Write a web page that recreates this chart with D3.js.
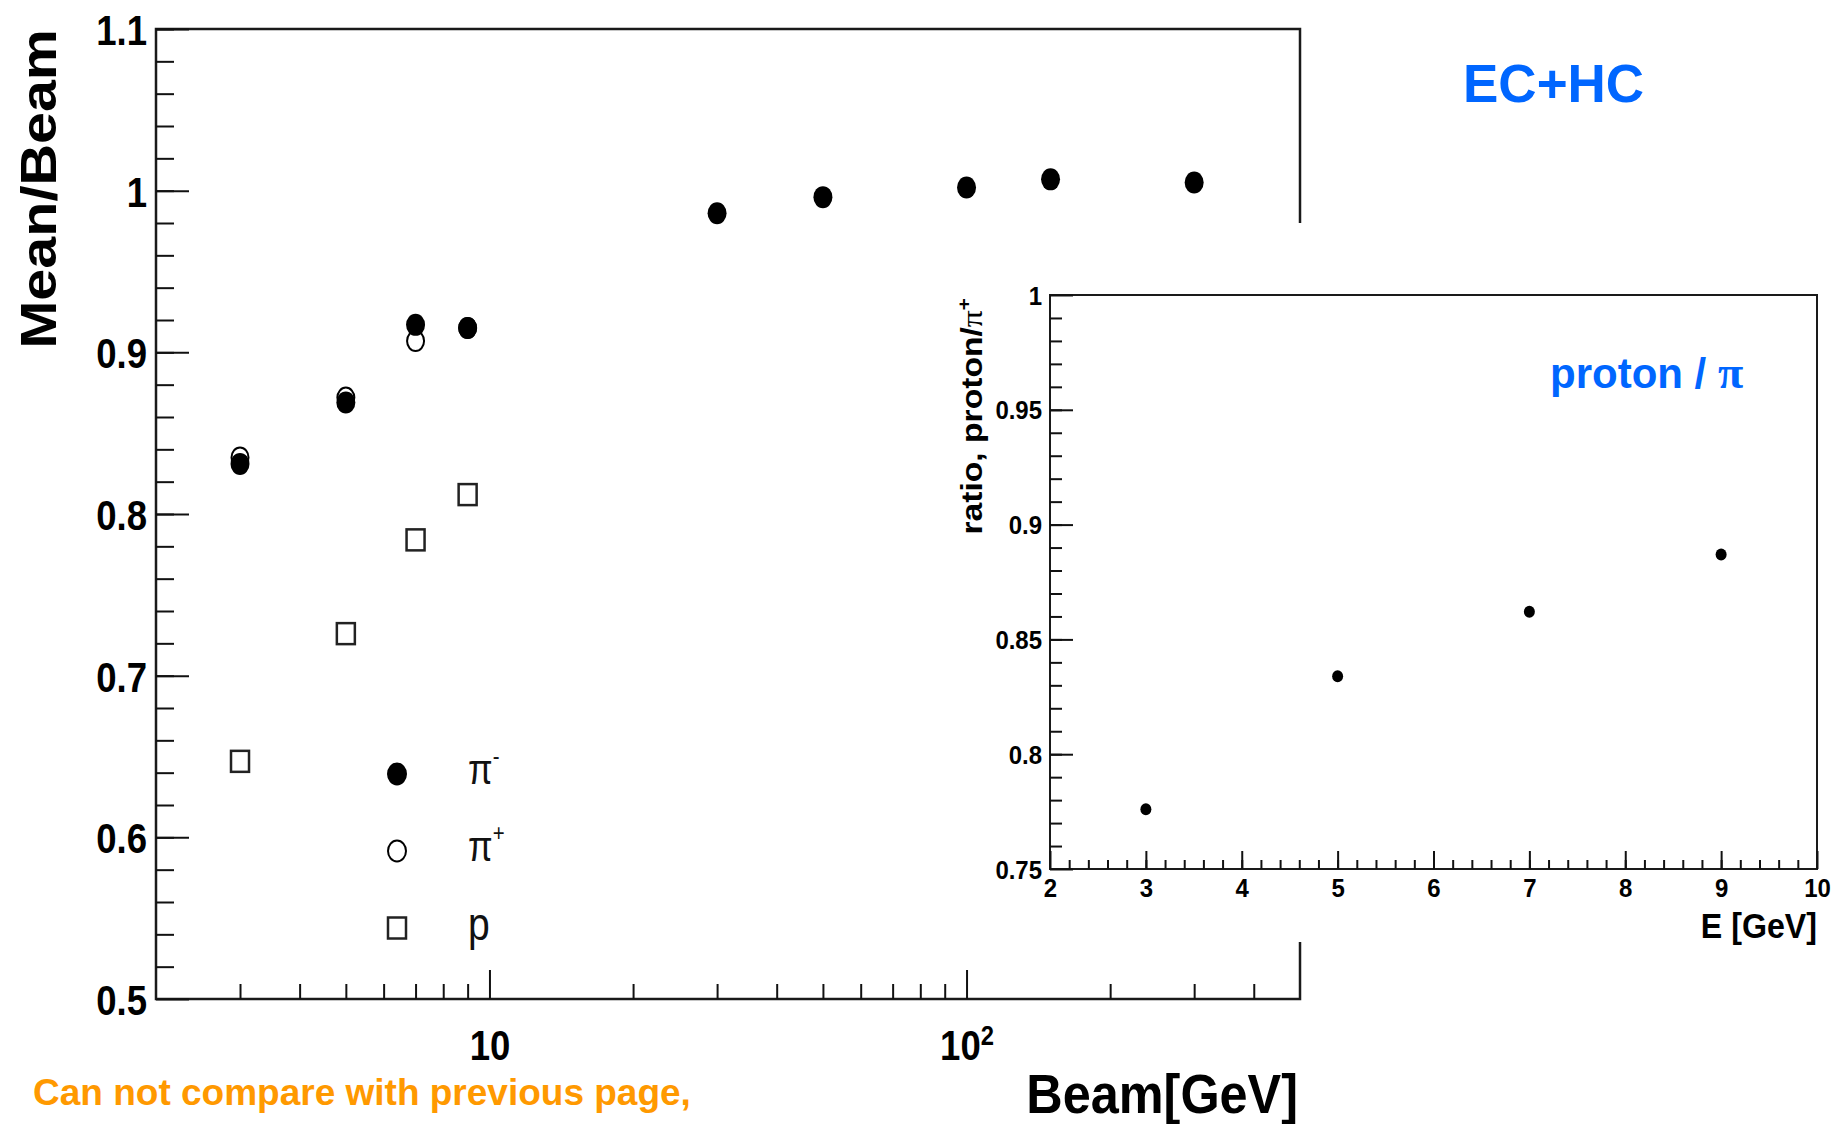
<!DOCTYPE html>
<html>
<head>
<meta charset="utf-8">
<script src="https://d3js.org/d3.v7.min.js"></script>
<style>
body { margin: 0; background: #fff; }
text { font-family: "Liberation Sans", Arial, sans-serif; }
</style>
</head>
<body>
<svg id="chart" width="1840" height="1124"></svg>
<script>
// main plot: Mean/Beam vs beam energy
var beamE = [3, 5, 7, 9, 30, 50, 100, 150, 300]
var piMinus = [0.831, 0.869, 0.917, 0.915, 0.986, 0.996, 1.002, 1.007, 1.005]
var lowE = [3, 5, 7, 9]
var piPlus = [0.835, 0.872, 0.907, 0.915]
var proton = [0.647, 0.726, 0.784, 0.812]

// inset: proton / pi+ ratio
var ratioE = [3, 5, 7, 9]
var ratio = [0.776, 0.834, 0.862, 0.887]

var mainYTicks = [0.5, 0.6, 0.7, 0.8, 0.9, 1, 1.1]
var mainXMajor = [10, 100]
var mainXMinor = [3, 4, 5, 6, 7, 8, 9, 20, 30, 40, 50, 60, 70, 80, 90, 200, 300, 400]
var insetXTicks = [2, 3, 4, 5, 6, 7, 8, 9, 10]
var insetYTicks = [0.75, 0.8, 0.85, 0.9, 0.95, 1]

var legendNames = ["π", "π", "p"]
var legendSups = ["-", "+", ""]
var legendMarks = ["filled", "open", "square"]

var svg = d3.select("#chart")

var x = d3.scaleLog().domain([2, 500]).range([156, 1300])
var y = d3.scaleLinear().domain([0.5, 1.1]).range([999, 29])
var xi = d3.scaleLinear().domain([2, 10]).range([1050, 1817])
var yi = d3.scaleLinear().domain([0.75, 1]).range([869, 295])

function cleanAxis(g) {
  g.select(".domain").remove()
  g.selectAll(".tick line").attr("stroke", "#111").attr("stroke-width", 2)
}

function blank() { return "" }

// ---- main frame and axes
svg.append("rect")
  .attr("x", 156).attr("y", 29).attr("width", 1144).attr("height", 970)
  .attr("fill", "none").attr("stroke", "#1a1a1a").attr("stroke-width", 2.5)

svg.append("g").attr("transform", "translate(156,0)")
  .call(d3.axisLeft(y).tickValues(d3.range(0.52, 1.1, 0.02)).tickSize(-18).tickFormat(blank))
  .call(cleanAxis)

svg.append("g").attr("transform", "translate(156,0)")
  .call(d3.axisLeft(y).tickValues(mainYTicks).tickSize(-33).tickPadding(9).tickFormat(d3.format("")))
  .call(cleanAxis)
  .call(function (g) {
    g.selectAll(".tick text")
      .attr("font-family", "Liberation Sans, Arial, sans-serif")
      .attr("font-weight", "bold").attr("font-size", 43).attr("fill", "#000")
      .attr("x", -9 / 0.85).attr("dy", "0.36em")
      .attr("transform", "scale(0.85,1)")
  })

svg.append("g").attr("transform", "translate(0,999)")
  .call(d3.axisBottom(x).tickValues(mainXMinor).tickSize(-15).tickFormat(blank))
  .call(cleanAxis)

svg.append("g").attr("transform", "translate(0,999)")
  .call(d3.axisBottom(x).tickValues(mainXMajor).tickSize(-29).tickFormat(blank))
  .call(cleanAxis)
  .call(function (g) {
    g.selectAll(".tick text").remove()
    g.selectAll(".tick").each(function (d) {
      var t = d3.select(this).append("text")
        .attr("transform", "translate(0,61) scale(0.85,1)")
        .attr("text-anchor", "middle")
        .attr("font-family", "Liberation Sans, Arial, sans-serif")
        .attr("font-weight", "bold").attr("font-size", 43).attr("fill", "#000")
      var p = Math.round(Math.log10(d))
      if (p == 1) {
        t.text("10")
      } else {
        t.append("tspan").text("10")
        t.append("tspan").attr("dy", -15).attr("font-size", 28).text(p)
      }
    })
  })

svg.append("text")
  .attr("transform", "translate(1298,1113) scale(0.9,1)")
  .attr("text-anchor", "end").attr("font-weight", "bold").attr("font-size", 56)
  .text("Beam[GeV]")

svg.append("text")
  .attr("transform", "translate(56,29) rotate(-90) scale(1.15,1)")
  .attr("text-anchor", "end").attr("font-weight", "bold").attr("font-size", 50)
  .text("Mean/Beam")

// ---- main data
var gData = svg.append("g")

gData.selectAll(".pm").data(beamE).join("ellipse")
  .attr("class", "pm")
  .attr("cx", function (d) { return x(d) })
  .attr("cy", function (d, i) { return y(piMinus[i]) })
  .attr("rx", 9.5).attr("ry", 11)
  .attr("fill", "#000")

gData.selectAll(".pp").data(lowE).join("ellipse")
  .attr("class", "pp")
  .attr("cx", function (d) { return x(d) })
  .attr("cy", function (d, i) { return y(piPlus[i]) })
  .attr("rx", 8.5).attr("ry", 10)
  .attr("fill", "none").attr("stroke", "#000").attr("stroke-width", 2)

gData.selectAll(".pr").data(lowE).join("rect")
  .attr("class", "pr")
  .attr("x", function (d) { return x(d) - 9 })
  .attr("y", function (d, i) { return y(proton[i]) - 10.5 })
  .attr("width", 18).attr("height", 21)
  .attr("fill", "none").attr("stroke", "#222").attr("stroke-width", 2.5)

// ---- legend
var leg = svg.append("g")
legendMarks.forEach(function (m, i) {
  var cy = 774 + i * 77
  if (m == "square") {
    leg.append("rect").attr("x", 397 - 9).attr("y", cy - 10.5).attr("width", 18).attr("height", 21)
      .attr("fill", "none").attr("stroke", "#222").attr("stroke-width", 2.5)
  } else {
    leg.append("ellipse").attr("cx", 397).attr("cy", cy).attr("rx", 9).attr("ry", 10.5)
      .attr("fill", m == "filled" ? "#000" : "none").attr("stroke", "#000").attr("stroke-width", 2)
  }
  var t = leg.append("text")
    .attr("transform", "translate(468," + (cy + (m == "square" ? 12 : 10)) + ") scale(0.85,1)")
    .attr("font-size", m == "square" ? 46 : 42).attr("fill", "#111")
    .text(legendNames[i])
  if (legendSups[i]) {
    t.append("tspan").attr("dy", -20).attr("font-size", 24).text(legendSups[i])
  }
})

// ---- inset
svg.append("rect")
  .attr("x", 940).attr("y", 223).attr("width", 900).attr("height", 719)
  .attr("fill", "#fff")

svg.append("rect")
  .attr("x", 1050).attr("y", 295).attr("width", 767).attr("height", 574)
  .attr("fill", "none").attr("stroke", "#1a1a1a").attr("stroke-width", 2)

svg.append("g").attr("transform", "translate(1050,0)")
  .call(d3.axisLeft(yi).tickValues(d3.range(0.76, 1, 0.01)).tickSize(-12).tickFormat(blank))
  .call(cleanAxis)

svg.append("g").attr("transform", "translate(1050,0)")
  .call(d3.axisLeft(yi).tickValues(insetYTicks).tickSize(-23).tickPadding(8).tickFormat(d3.format("")))
  .call(cleanAxis)
  .call(function (g) {
    g.selectAll(".tick text")
      .attr("font-family", "Liberation Sans, Arial, sans-serif")
      .attr("font-weight", "bold").attr("font-size", 25.5).attr("fill", "#000")
      .attr("x", -8 / 0.94).attr("dy", "0.36em")
      .attr("transform", "scale(0.94,1)")
  })

svg.append("g").attr("transform", "translate(0,869)")
  .call(d3.axisBottom(xi).tickValues(d3.range(2.2, 10, 0.2)).tickSize(-9).tickFormat(blank))
  .call(cleanAxis)

svg.append("g").attr("transform", "translate(0,869)")
  .call(d3.axisBottom(xi).tickValues(insetXTicks).tickSize(-18).tickFormat(blank))
  .call(cleanAxis)
  .call(function (g) {
    g.selectAll(".tick text").remove()
    g.selectAll(".tick").append("text")
      .attr("transform", "translate(0,28) scale(0.94,1)")
      .attr("text-anchor", "middle")
      .attr("font-family", "Liberation Sans, Arial, sans-serif")
      .attr("font-weight", "bold").attr("font-size", 25.5).attr("fill", "#000")
      .text(function (d) { return d })
  })

svg.append("text")
  .attr("transform", "translate(1817,938) scale(0.92,1)")
  .attr("text-anchor", "end").attr("font-weight", "bold").attr("font-size", 35)
  .text("E [GeV]")

var yl = svg.append("text")
  .attr("transform", "translate(982,298) rotate(-90) scale(1.16,1)")
  .attr("text-anchor", "end").attr("font-weight", "bold").attr("font-size", 29)
yl.append("tspan").text("ratio, proton/")
yl.append("tspan").attr("font-family", "Liberation Serif, Times New Roman, serif")
  .attr("font-weight", "normal").text("π")
yl.append("tspan").attr("dy", -12).attr("font-size", 18).text("+")

svg.append("g").selectAll("ellipse").data(ratioE).join("ellipse")
  .attr("cx", function (d) { return xi(d) })
  .attr("cy", function (d, i) { return yi(ratio[i]) })
  .attr("rx", 5.5).attr("ry", 6)
  .attr("fill", "#000")

// ---- annotations
svg.append("text")
  .attr("x", 1463).attr("y", 102)
  .attr("font-weight", "bold").attr("font-size", 53).attr("fill", "#0066ff")
  .text("EC+HC")

var pt = svg.append("text")
  .attr("x", 1550).attr("y", 388)
  .attr("font-weight", "bold").attr("font-size", 42).attr("fill", "#0066ff")
pt.append("tspan").text("proton / ")
pt.append("tspan").attr("font-family", "Liberation Serif, Times New Roman, serif").attr("font-size", 46).text("π")

svg.append("text")
  .attr("x", 33).attr("y", 1105)
  .attr("font-weight", "bold").attr("font-size", 37).attr("fill", "#ff9900")
  .text("Can not compare with previous page,")
</script>
</body>
</html>
